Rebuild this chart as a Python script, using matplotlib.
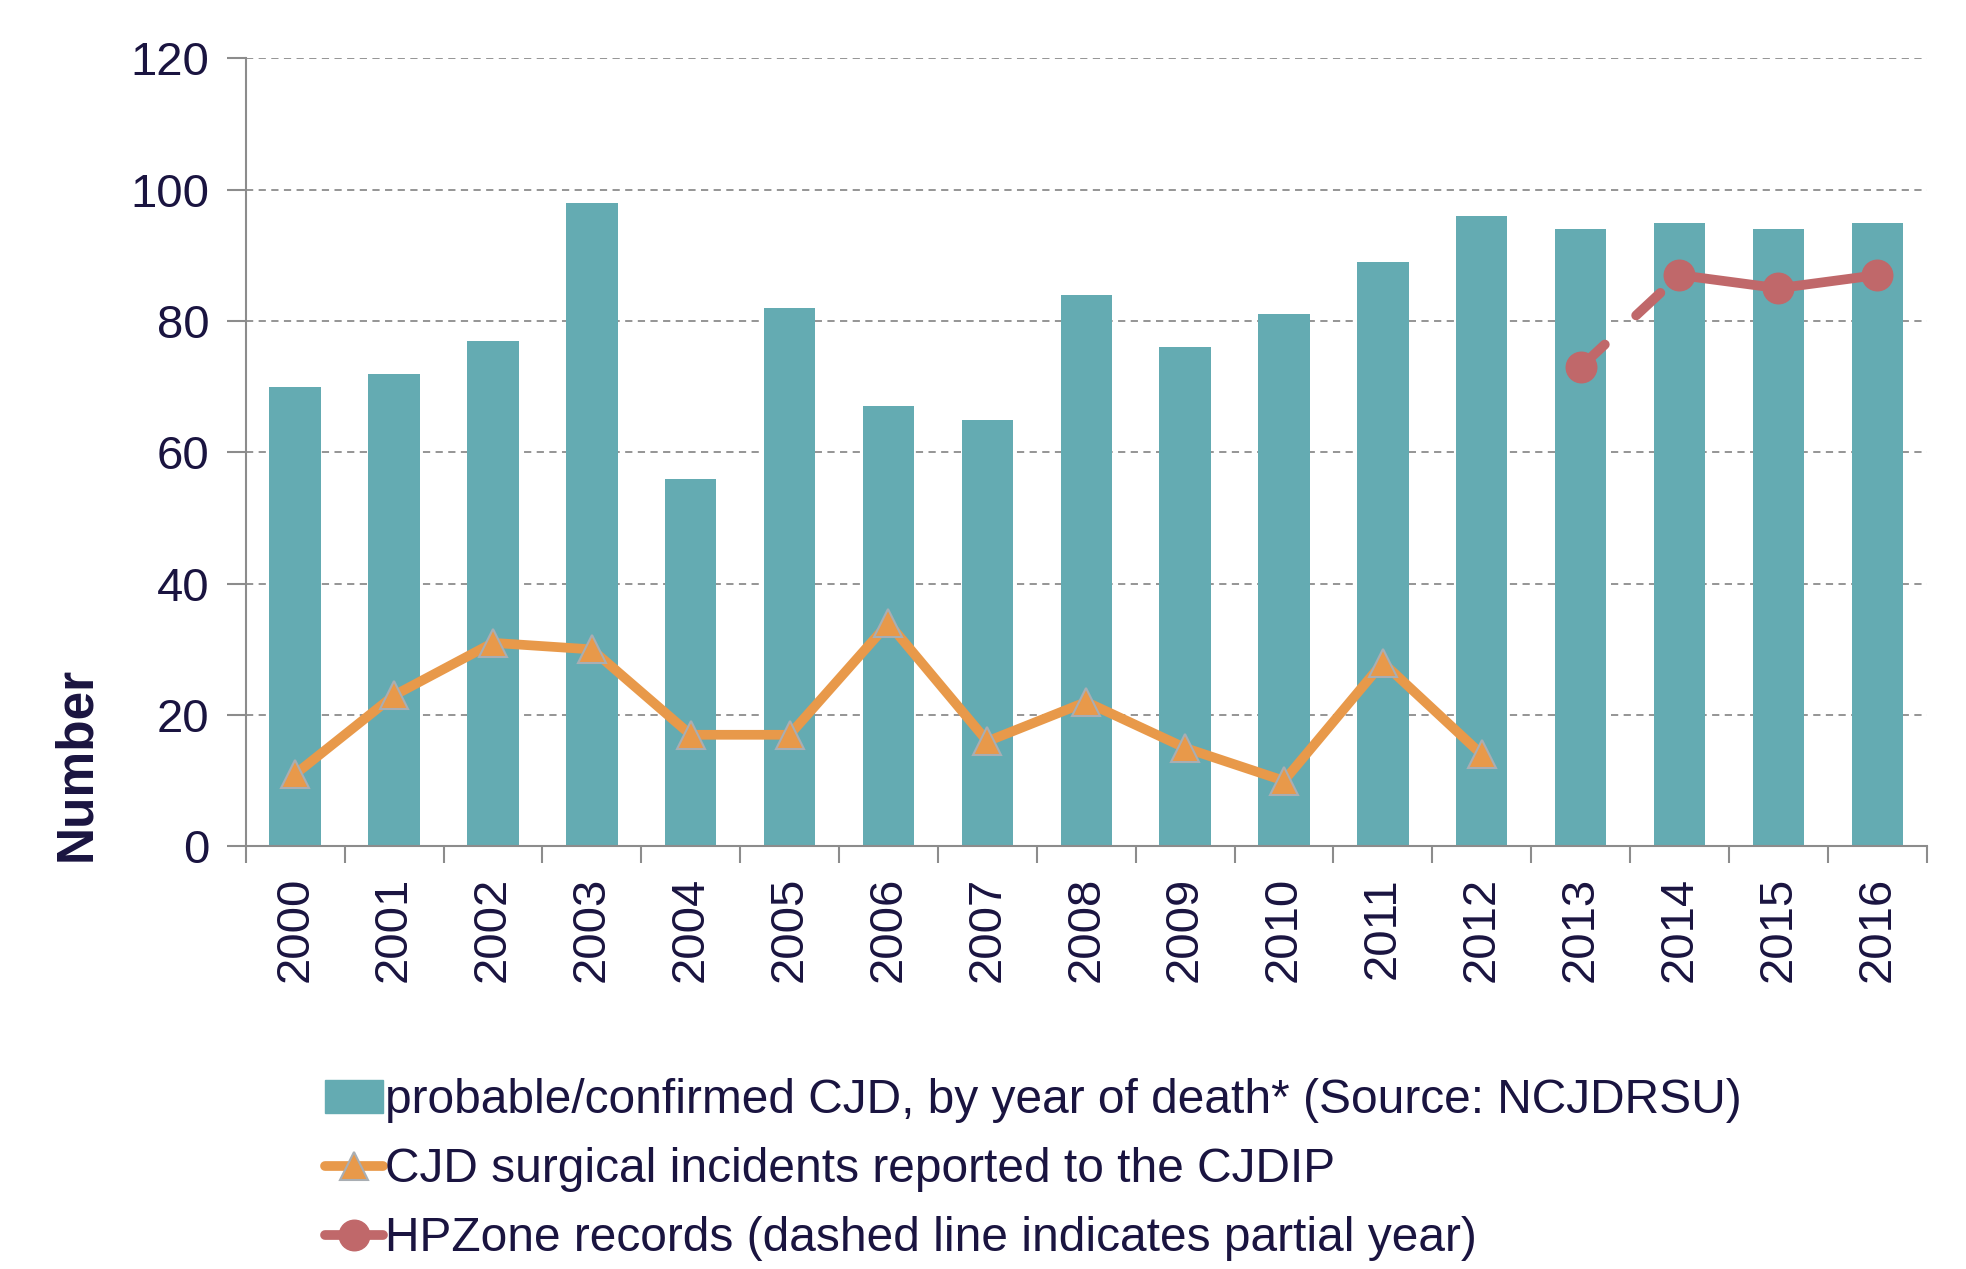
import numpy as np
import matplotlib
matplotlib.use("Agg")
import matplotlib.pyplot as plt
from matplotlib.patches import Patch
from matplotlib.lines import Line2D

plt.rcParams["font.family"] = ["Liberation Sans", "DejaVu Sans"]

years = list(range(2000, 2017))
cjd_deaths = [70, 72, 77, 98, 56, 82, 67, 65, 84, 76, 81, 89, 96, 94, 95, 94, 95]
surg_years = list(range(2000, 2013))
surgical = [11, 23, 31, 30, 17, 17, 34, 16, 22, 15, 10, 28, 14]
hp_years = [2013, 2014, 2015, 2016]
hpzone = [73, 87, 85, 87]

TEAL = "#64abb2"
ORANGE = "#e8994a"
ROSE = "#c0686a"
INK = "#1a1440"
GRID = "#8c8c8c"
FS = 34

fig = plt.figure(figsize=(19.66, 12.69), dpi=100)
ax = fig.add_axes([0.125, 0.333, 0.855, 0.621])

x = np.arange(len(years))
ax.bar(x, cjd_deaths, width=0.52, color=TEAL, zorder=2)

xs = [years.index(y) for y in surg_years]
ax.plot(xs, surgical, color=ORANGE, lw=7, marker="^", ms=20,
        mfc=ORANGE, mec="#a9aeb3", mew=1.5, zorder=3)

# partial-year segment (2013 -> 2014) is dashed
xh = [years.index(y) for y in hp_years]
ax.plot(xh[:2], hpzone[:2], color=ROSE, lw=7, dashes=(3.4, 4.4),
        dash_capstyle="round", zorder=3)
ax.plot(xh[1:], hpzone[1:], color=ROSE, lw=7, zorder=3)
ax.plot(xh, hpzone, ls="none", marker="o", ms=22, color=ROSE, zorder=4)

ax.set_xlim(-0.5, len(years) - 0.5)
ax.set_ylim(0, 120)
ax.set_yticks(range(0, 121, 20))
ax.set_xticks(x)
ax.set_xticklabels([str(y) for y in years], rotation=90)
ax.set_xticks(np.arange(-0.5, len(years)), minor=True)
ax.tick_params(axis="x", which="major", length=0, pad=22,
               labelsize=FS, labelcolor=INK)
ax.tick_params(axis="x", which="minor", length=12, width=1.5, color=GRID)
ax.tick_params(axis="y", length=14, width=1.5, color=GRID,
               labelsize=FS, labelcolor=INK, pad=12)

ax.grid(True, axis="y", color=GRID, ls=(0, (4, 3)), lw=1.3, zorder=0)
for s in ["top", "right"]:
    ax.spines[s].set_visible(False)
for s in ["left", "bottom"]:
    ax.spines[s].set_color(GRID)
    ax.spines[s].set_linewidth(1.5)

ax.set_ylabel("Number", fontsize=37, fontweight="bold", color=INK)
ax.yaxis.set_label_coords(-0.086, 0.105)

handles = [
    Patch(color=TEAL),
    Line2D([], [], color=ORANGE, lw=7, marker="^", ms=20, mfc=ORANGE,
           mec="#a9aeb3", mew=1.5, solid_capstyle="round"),
    Line2D([], [], color=ROSE, lw=7, marker="o", ms=22,
           solid_capstyle="round"),
]
labels = [
    "probable/confirmed CJD, by year of death* (Source: NCJDRSU)",
    "CJD surgical incidents reported to the CJDIP",
    "HPZone records (dashed line indicates partial year)",
]
leg = fig.legend(handles, labels, loc="lower left",
                 bbox_to_anchor=(0.1435, -0.028),
                 frameon=False, fontsize=34.5, handlelength=1.2,
                 handletextpad=0.05, labelspacing=0.5)
for t in leg.get_texts():
    t.set_color(INK)

fig.savefig("out.png", dpi=100)
